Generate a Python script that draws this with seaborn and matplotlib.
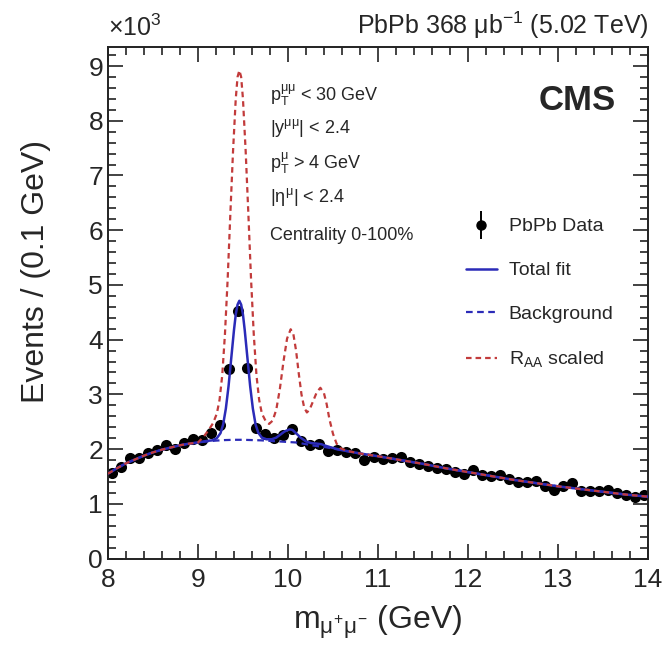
import numpy as np
import pandas as pd
import matplotlib
matplotlib.use('Agg')
import matplotlib.pyplot as plt
from matplotlib.lines import Line2D
from matplotlib.legend_handler import HandlerTuple
from matplotlib.ticker import MultipleLocator
import seaborn as sns

sns.set_style('ticks')
plt.rcParams['font.family'] = ['Liberation Sans', 'DejaVu Sans']
plt.rcParams['mathtext.fontset'] = 'custom'
plt.rcParams['mathtext.rm'] = 'Liberation Sans'
plt.rcParams['mathtext.it'] = 'Liberation Sans'
plt.rcParams['mathtext.bf'] = 'Liberation Sans:bold'

# DATA (events in units of 10^3 per 0.1 GeV)
mass = [8.05, 8.15, 8.25, 8.35, 8.45, 8.55, 8.65, 8.75, 8.85, 8.95,
        9.05, 9.15, 9.25, 9.35, 9.45, 9.55, 9.65, 9.75, 9.85, 9.95,
        10.05, 10.15, 10.25, 10.35, 10.45, 10.55, 10.65, 10.75, 10.85, 10.95,
        11.05, 11.15, 11.25, 11.35, 11.45, 11.55, 11.65, 11.75, 11.85, 11.95,
        12.05, 12.15, 12.25, 12.35, 12.45, 12.55, 12.65, 12.75, 12.85, 12.95,
        13.05, 13.15, 13.25, 13.35, 13.45, 13.55, 13.65, 13.75, 13.85, 13.95]
events = [1.57, 1.68, 1.83, 1.83, 1.92, 1.99, 2.07, 2.01, 2.11, 2.19,
          2.17, 2.30, 2.44, 3.46, 4.53, 3.48, 2.39, 2.28, 2.20, 2.25,
          2.36, 2.14, 2.08, 2.09, 1.96, 1.98, 1.94, 1.92, 1.81, 1.86,
          1.82, 1.84, 1.85, 1.76, 1.73, 1.70, 1.66, 1.64, 1.58, 1.55,
          1.62, 1.52, 1.50, 1.52, 1.45, 1.40, 1.39, 1.42, 1.32, 1.26,
          1.33, 1.38, 1.23, 1.23, 1.23, 1.25, 1.20, 1.17, 1.12, 1.17]

# background curve
bkg_x = [8.0, 8.1, 8.2, 8.3, 8.4, 8.5, 8.6, 8.7, 8.8, 8.9, 9.0, 9.1, 9.2, 9.3, 9.4,
         9.5, 9.6, 9.7, 9.8, 9.9, 10.0, 10.1, 10.2, 10.3, 10.4, 10.5, 10.6, 10.8,
         11.0, 11.25, 11.5, 11.75, 12.0, 12.25, 12.5, 12.75, 13.0, 13.25, 13.5, 13.75, 14.0]
bkg_y = [1.55, 1.65, 1.74, 1.81, 1.88, 1.94, 1.99, 2.03, 2.07, 2.10, 2.12, 2.14, 2.155, 2.165, 2.17,
         2.17, 2.165, 2.16, 2.15, 2.14, 2.13, 2.12, 2.09, 2.06, 2.04, 2.01, 1.98, 1.92,
         1.87, 1.80, 1.73, 1.65, 1.58, 1.51, 1.44, 1.38, 1.32, 1.27, 1.22, 1.17, 1.13]

# total fit, peak region only (outside it the fit follows the background)
fit_peak_x = [9.10, 9.16, 9.21, 9.25, 9.28, 9.31, 9.34, 9.37, 9.40, 9.42, 9.44, 9.46,
              9.48, 9.50, 9.52, 9.55, 9.58, 9.61, 9.64, 9.67, 9.71, 9.76, 9.82, 9.87,
              9.92, 9.96, 10.00, 10.02, 10.05, 10.09, 10.14, 10.20, 10.26, 10.32, 10.37,
              10.42, 10.48, 10.55]
fit_peak_y = [2.15, 2.16, 2.20, 2.29, 2.45, 2.74, 3.15, 3.66, 4.17, 4.46, 4.64, 4.71,
              4.64, 4.46, 4.17, 3.66, 3.15, 2.74, 2.45, 2.30, 2.21, 2.18, 2.18, 2.21,
              2.27, 2.32, 2.35, 2.36, 2.35, 2.29, 2.21, 2.14, 2.11, 2.10, 2.09,
              2.06, 2.03, 2.00]

# R_AA scaled curve, peak region only
raa_peak_x = [9.06, 9.12, 9.17, 9.21, 9.24, 9.27, 9.30, 9.33, 9.36, 9.39, 9.42, 9.44, 9.46,
              9.48, 9.50, 9.53, 9.56, 9.59, 9.62, 9.65, 9.68, 9.71, 9.75, 9.79, 9.83, 9.87,
              9.91, 9.95, 9.99, 10.03, 10.06, 10.09, 10.12, 10.15, 10.18, 10.21, 10.24,
              10.28, 10.32, 10.36, 10.40, 10.43, 10.46, 10.50, 10.54, 10.58, 10.65]
raa_peak_y = [2.22, 2.35, 2.48, 2.65, 2.90, 3.35, 4.10, 5.10, 6.30, 7.45, 8.40, 8.80, 8.92,
              8.80, 8.40, 7.45, 6.30, 5.10, 4.10, 3.35, 2.90, 2.65, 2.52, 2.46, 2.52, 2.72,
              3.10, 3.60, 4.02, 4.19, 4.10, 3.80, 3.38, 3.00, 2.76, 2.67, 2.72,
              2.88, 3.04, 3.12, 3.02, 2.82, 2.55, 2.28, 2.10, 2.02, 1.97]

bkg = pd.DataFrame({'x': bkg_x, 'y': bkg_y})
fit = pd.concat([bkg[bkg.x < 9.1], pd.DataFrame({'x': fit_peak_x, 'y': fit_peak_y}),
                 bkg[bkg.x > 10.55]])
raa = pd.concat([bkg[bkg.x < 9.06], pd.DataFrame({'x': raa_peak_x, 'y': raa_peak_y}),
                 bkg[bkg.x > 10.65]])

blue = '#2b2bb8'
red = '#c23b3b'

fig = plt.figure(figsize=(6.62, 6.51), dpi=100)
fig.subplots_adjust(left=0.163, right=0.979, bottom=0.142, top=0.928)
ax = fig.add_subplot(111)

sns.scatterplot(x=mass, y=events, ax=ax, color='black', s=64, edgecolor='black',
                linewidth=0, zorder=2)
sns.lineplot(data=bkg, x='x', y='y', ax=ax, color=blue, lw=1.6,
             linestyle=(0, (3, 2)), zorder=3)
sns.lineplot(data=fit, x='x', y='y', ax=ax, color=blue, lw=1.8, zorder=4)
sns.lineplot(data=raa, x='x', y='y', ax=ax, color=red, lw=1.6,
             linestyle=(0, (2.5, 1.8)), zorder=5)

ax.set_xlim(8, 14)
ax.set_ylim(0, 9.35)
ax.xaxis.set_major_locator(MultipleLocator(1))
ax.xaxis.set_minor_locator(MultipleLocator(0.2))
ax.yaxis.set_major_locator(MultipleLocator(1))
ax.yaxis.set_minor_locator(MultipleLocator(0.2))
ax.tick_params(which='both', direction='in', top=True, right=True, width=1.2,
               labelsize=19, color='#222222')
ax.tick_params(which='major', length=11)
ax.tick_params(which='minor', length=6)
ax.tick_params(axis='x', pad=7)
for s in ax.spines.values():
    s.set_linewidth(1.4)
    s.set_color('#222222')

ax.set_xlabel(r'm$_{\mu^{+}\mu^{-}}$ (GeV)', fontsize=23, labelpad=8)
ax.set_ylabel('Events / (0.1 GeV)', fontsize=23, loc='top')
ax.yaxis.set_label_coords(-0.105, 0.818)

ax.text(0.0, 1.012, r'$\times$10$^{3}$', transform=ax.transAxes, fontsize=18,
        ha='left', va='bottom')
ax.text(1.0, 1.012, r'PbPb 368 $\mu$b$^{-1}$ (5.02 TeV)', transform=ax.transAxes,
        fontsize=18, ha='right', va='bottom')
ax.text(0.94, 0.896, 'CMS', transform=ax.transAxes, fontsize=25, fontweight='bold',
        ha='right', va='center')

cuts = [r'p$_{\mathrm{T}}^{\mu\mu}$ < 30 GeV', r'|y$^{\mu\mu}$| < 2.4',
        r'p$_{\mathrm{T}}^{\mu}$ > 4 GeV', r'|$\eta^{\mu}$| < 2.4', 'Centrality 0-100%']
cut_y = [0.906, 0.842, 0.773, 0.707, 0.631]
for txt, yy in zip(cuts, cut_y):
    ax.text(0.30, yy, txt, transform=ax.transAxes, fontsize=13, ha='left', va='center')

handles = [
    (Line2D([0], [0], color='black', marker='|', ms=20, mew=1.4, ls='None'),
     Line2D([0], [0], color='black', marker='o', ms=6.5, ls='None')),
    Line2D([0], [0], color=blue, lw=1.8),
    Line2D([0], [0], color=blue, lw=1.6, ls=(0, (3, 2))),
    Line2D([0], [0], color=red, lw=1.6, ls=(0, (2.5, 1.8))),
]
labels = ['PbPb Data', 'Total fit', 'Background', r'R$_{\mathrm{AA}}$ scaled']
ax.legend(handles, labels, loc='upper left', bbox_to_anchor=(0.63, 0.70),
          frameon=False, fontsize=14, labelspacing=1.35, handlelength=1.6,
          handletextpad=0.6, handler_map={tuple: HandlerTuple(ndivide=1)})

fig.savefig('out.png', dpi=100)
